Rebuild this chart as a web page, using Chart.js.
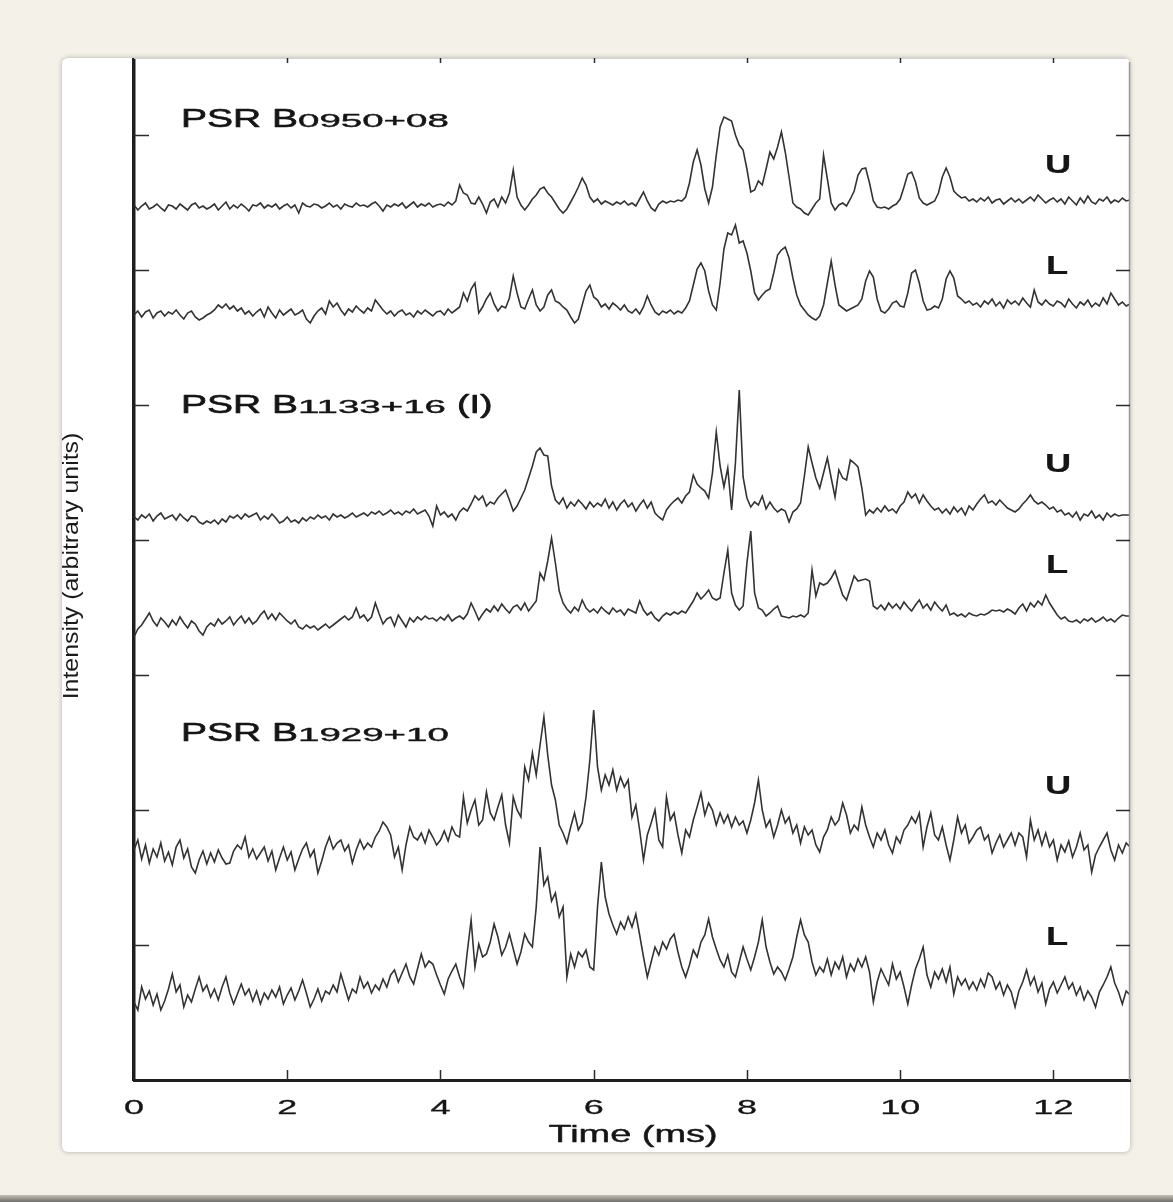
<!DOCTYPE html>
<html>
<head>
<meta charset="utf-8">
<title>Pulsar pulse profiles</title>
<script src="https://cdn.jsdelivr.net/npm/chart.js@4.4.0/dist/chart.umd.min.js"></script>
<style>
  html, body { margin: 0; padding: 0; }
  body { width: 1173px; height: 1202px; background: #f4f1e8; position: relative; overflow: hidden; }
  #card { position: absolute; left: 62px; top: 58px; width: 1068px; height: 1094px; background: #fff;
          border-radius: 6px; box-shadow: 0 0 5px rgba(0, 0, 0, 0.28); }
  #plot { position: absolute; left: 62px; top: 58px; }
  #floor { position: absolute; left: 0; top: 1195px; width: 1173px; height: 7px;
           background: linear-gradient(#c4c1b8, #6f6d69); }
</style>
</head>
<body>
<div id="card"></div>
<canvas id="plot" width="1069" height="1094"></canvas>
<div id="floor"></div>
<script>
// one sample every 0.05 ms, 0 .. 13 ms (261 samples per trace)
const sampleStep = 0.05;

// B0950+08, upper band
const u0950 = [
  2,-3,1,4,-2,0,3,-1,-4,2,1,-2,3,0,-3,2,4,-1,1,-2,
  0,3,-3,1,5,-2,2,-1,3,0,-4,2,1,4,-1,2,0,3,-2,1,
  3,-1,2,-6,4,1,0,3,2,-1,1,4,0,2,-2,3,1,0,4,1,
  2,0,3,5,1,-4,2,0,3,1,4,-1,2,5,0,3,1,4,0,2,
  3,1,5,2,6,22,14,12,4,3,10,3,-6,5,8,0,10,4,14,37,
  10,2,-3,2,8,12,18,20,14,10,4,-2,-6,-2,5,12,20,29,22,10,
  5,8,3,6,4,2,5,3,6,2,4,1,8,15,6,-1,-4,3,6,4,
  6,5,7,6,10,24,45,57,42,18,4,20,52,80,90,88,86,72,62,57,
  38,15,17,26,22,38,55,48,60,75,55,30,4,0,-2,-6,-8,-2,4,8,
  52,28,4,-3,2,4,1,8,16,32,38,39,24,6,0,-1,0,-2,1,3,
  8,20,33,35,25,9,4,2,4,6,14,30,39,30,16,12,9,10,6,8,
  5,9,6,10,4,7,8,3,6,9,5,8,4,7,10,6,12,8,4,7,
  9,5,8,3,10,6,2,9,4,11,5,3,8,6,10,4,7,5,9,6,
  7
];
// B0950+08, lower band
const l0950 = [
  -2,2,-4,1,3,-5,0,2,-3,1,-1,3,-2,-6,0,2,-4,-7,-5,-2,
  0,3,8,5,9,4,7,2,5,-1,2,-3,1,4,-4,6,0,-5,3,-2,
  1,4,-2,0,3,-6,-10,-3,2,5,-1,12,6,10,3,-2,4,1,7,3,
  0,5,2,13,8,3,-1,2,-3,1,3,-2,0,-4,2,-1,3,0,-3,1,
  2,-2,4,0,3,6,20,12,24,30,0,6,14,20,9,2,7,5,15,37,
  20,6,4,14,23,8,2,6,18,23,12,10,6,3,-4,-10,-6,8,22,28,
  16,13,6,9,4,10,7,3,8,2,0,4,-1,6,17,8,1,-2,2,0,
  3,-1,2,0,5,12,28,44,50,42,22,8,3,30,64,80,78,88,70,72,
  60,42,20,13,18,22,24,40,58,63,66,55,35,18,8,3,-2,-5,-7,-3,
  8,30,52,28,8,5,2,4,6,8,14,32,42,36,14,2,0,4,10,12,
  7,6,20,40,43,30,12,3,4,7,5,14,34,42,35,17,14,10,12,8,
  10,6,12,9,14,7,11,5,13,9,12,8,15,10,6,23,11,8,13,9,
  7,12,10,6,14,9,5,11,8,13,6,10,7,15,9,20,14,8,11,7,
  9
];
// B1133+16, upper band
const u1133 = [
  1,-2,3,0,4,-3,2,5,-1,1,3,-2,4,0,-3,2,1,-4,-6,-3,
  -5,-2,-6,-1,-4,2,0,3,-1,4,1,3,5,-2,2,-1,4,0,-5,-3,
  1,-4,-2,-5,0,-3,1,-1,3,0,2,-2,4,1,3,0,2,5,1,3,
  5,2,6,4,7,3,5,8,4,6,3,7,5,9,4,6,8,2,-8,12,
  3,6,1,4,-2,6,10,7,14,22,18,22,12,16,14,20,24,28,18,7,
  12,20,28,40,52,66,70,63,62,32,18,14,20,10,16,12,18,14,9,16,
  11,15,12,19,10,16,8,14,18,11,15,7,13,18,10,16,5,1,-2,8,
  13,17,20,15,22,26,43,34,30,27,20,45,86,52,31,50,8,55,128,41,
  20,11,16,13,22,9,16,10,6,9,7,-4,6,9,15,42,71,55,40,30,
  45,60,40,21,48,40,38,58,55,51,30,3,8,5,10,6,12,7,9,5,
  12,16,26,20,24,15,23,17,12,8,10,5,9,4,11,6,10,3,12,8,
  14,19,23,15,17,13,18,14,10,8,6,9,14,18,23,17,14,16,13,9,
  11,6,8,3,5,1,6,-2,4,2,7,0,3,-2,5,1,4,2,3,3,
  3
];
// B1133+16, lower band
const l1133 = [
  -14,-6,-2,4,10,2,-3,5,1,-4,3,-2,6,0,-5,2,-1,-8,-12,-4,
  0,-3,4,-1,2,6,-2,3,7,0,5,-1,2,8,12,4,9,3,10,6,
  2,-1,3,-4,-6,-2,-5,-3,-7,-4,-1,-5,-2,1,4,7,3,6,15,5,
  8,2,6,20,9,-1,4,6,-3,8,2,-4,5,1,6,3,7,4,5,2,
  6,3,8,2,5,7,4,9,20,12,3,9,14,11,17,12,19,14,10,16,
  18,13,20,12,17,22,50,43,62,85,60,32,20,14,10,16,12,23,15,11,
  14,10,16,12,9,15,11,13,8,14,12,10,22,13,8,11,5,2,7,10,
  8,11,9,12,10,16,22,30,24,28,33,25,23,25,50,73,30,18,13,17,
  60,92,30,15,13,7,10,14,17,7,6,5,7,6,8,6,10,53,27,40,
  38,40,45,52,40,28,23,35,47,42,43,44,42,17,14,18,13,20,15,19,
  14,21,16,12,18,23,15,19,13,21,16,12,18,8,10,7,9,6,10,8,
  7,9,8,10,13,12,13,11,14,12,9,15,19,12,20,16,22,18,28,20,
  14,8,4,6,2,1,3,0,4,2,5,1,3,6,2,4,1,5,8,7,
  7
];
// B1929+10, upper band
const u1929 = [
  5,15,-4,10,-8,6,-2,12,-6,3,-10,8,15,-3,6,-12,-18,-5,4,-9,
  2,-7,5,-3,-9,-8,4,10,6,18,-2,6,-4,2,8,-6,4,-15,-3,8,
  -5,3,-15,-4,6,12,-2,5,-18,-6,8,18,6,12,15,4,10,-8,5,15,
  6,12,8,18,24,33,28,20,-2,8,-15,10,28,18,15,22,12,25,18,10,
  15,24,14,28,20,18,58,32,45,55,30,35,63,42,35,48,60,30,12,58,
  45,38,88,75,102,80,110,138,100,70,55,30,22,12,28,42,25,32,58,95,
  145,88,65,80,70,85,65,78,68,75,38,50,25,-5,20,32,45,15,8,58,
  35,42,20,2,25,18,35,48,62,40,52,45,30,42,32,40,28,38,30,34,
  22,35,52,75,45,28,35,18,30,45,32,38,22,30,12,28,20,25,10,3,
  18,25,38,30,35,52,40,22,30,25,48,30,18,8,22,15,25,10,2,18,
  12,25,30,38,32,42,8,28,42,20,15,28,10,-5,15,38,22,30,12,18,
  25,28,15,20,2,12,20,8,15,22,10,22,18,-2,35,15,25,10,22,8,
  15,-5,10,3,14,-2,8,22,5,10,-17,0,8,15,22,5,-5,10,2,12,
  8
];
// B1929+10, lower band
const l1929 = [
  -5,-13,10,-2,6,-8,3,-13,-4,8,23,5,12,-10,2,-5,8,20,6,12,
  0,8,-3,10,20,4,-7,3,13,2,8,-4,6,-7,4,-2,7,0,10,-7,
  2,9,-3,6,17,4,-10,-2,8,-4,6,3,12,5,23,10,-3,8,4,20,
  9,15,4,12,7,18,10,22,27,15,24,33,20,13,28,43,30,36,33,22,
  12,3,18,26,33,20,10,45,77,30,53,40,43,55,73,60,42,50,63,48,
  33,45,63,55,50,90,150,112,120,96,104,80,90,20,43,30,45,40,47,30,
  27,90,135,100,83,72,63,75,68,80,70,83,62,40,20,35,50,42,55,48,
  58,63,45,30,20,32,47,40,55,62,78,60,48,37,30,42,25,20,35,50,
  38,27,40,55,77,50,35,23,30,25,17,28,40,60,77,62,55,35,22,30,
  25,38,22,35,28,40,20,33,26,38,30,40,25,-5,15,28,20,12,33,18,
  25,10,-7,12,28,38,50,22,10,25,18,28,15,30,3,20,12,18,8,15,
  7,18,10,24,20,8,15,2,12,5,-10,6,15,27,12,20,5,14,-7,8,
  15,4,12,20,8,14,2,10,-3,6,0,-10,5,12,20,30,14,5,-7,6,
  2
];

const traceNames = ["B0950+08 U", "B0950+08 L", "B1133+16 U", "B1133+16 L", "B1929+10 U", "B1929+10 L"];
const traceOffsets = [873, 767, 562, 457, 225, 83];
const bandLabels = ["U", "L", "U", "L", "U", "L"];
const pulsarLabels = [["PSR B", "0950+08", ""], ["PSR B", "1133+16", "(I)"], ["PSR B", "1929+10", ""]];
const timeTicks = [0, 2, 4, 6, 8, 10, 12];
const intensityTicks = [135, 270, 405, 540, 675, 810, 945];

const traces = [u0950, l0950, u1133, l1133, u1929, l1929];
const times = u0950.map((v, i) => +(i * sampleStep).toFixed(2));

const FONT = "'Liberation Sans', Arial, sans-serif";

// the original figure is stretched sideways, so text is drawn wide
function wideText(ctx, text, x, y, font, stretch, align, weight) {
    ctx.save();
    ctx.font = font;
    ctx.fillStyle = "#151515";
    ctx.strokeStyle = "#151515";
    ctx.lineWidth = weight || 0.5;
    ctx.lineJoin = "round";
    ctx.textAlign = align || "left";
    ctx.textBaseline = "alphabetic";
    ctx.translate(x, y);
    ctx.scale(stretch, 1);
    ctx.fillText(text, 0, 0);
    ctx.strokeText(text, 0, 0);
    ctx.restore();
}

const frame = {
    id: "frame",
    afterDraw(chart) {
        const ctx = chart.ctx;
        const area = chart.chartArea;
        const xs = chart.scales.x;
        const ys = chart.scales.y;
        ctx.save();

        // right and top edge of the box
        ctx.strokeStyle = "#9c9c9c";
        ctx.lineWidth = 1.5;
        ctx.beginPath();
        ctx.moveTo(area.right - 0.5, area.top + 4);
        ctx.lineTo(area.right - 0.5, area.bottom);
        ctx.stroke();
        ctx.strokeStyle = "#d4d4d4";
        ctx.lineWidth = 1;
        ctx.beginPath();
        ctx.moveTo(area.left, area.top + 0.5);
        ctx.lineTo(area.right - 4, area.top + 0.5);
        ctx.stroke();

        // tick marks pointing into the box
        ctx.strokeStyle = "#2a2a2a";
        ctx.lineWidth = 1.5;
        ctx.beginPath();
        xs.ticks.forEach(t => {
            if (t.value <= 0) return;
            const px = Math.round(xs.getPixelForValue(t.value)) + 0.5;
            ctx.moveTo(px, area.bottom);
            ctx.lineTo(px, area.bottom - 10);
            ctx.moveTo(px, area.top);
            ctx.lineTo(px, area.top + 5);
        });
        ys.ticks.forEach(t => {
            const py = Math.round(ys.getPixelForValue(t.value)) + 0.5;
            ctx.moveTo(area.left, py);
            ctx.lineTo(area.left + 15, py);
            ctx.moveTo(area.right - 14, py);
            ctx.lineTo(area.right, py);
        });
        ctx.stroke();
        ctx.restore();

        // tick labels and axis titles
        xs.ticks.forEach(t => {
            wideText(ctx, String(t.value), xs.getPixelForValue(t.value), area.bottom + 34,
                "20px " + FONT, 1.8, "center", 0.3);
        });
        wideText(ctx, "Time (ms)", (area.left + area.right) / 2 + 1, area.bottom + 62,
            "24px " + FONT, 1.58, "center", 0.45);
        ctx.save();
        ctx.font = "22px " + FONT;
        ctx.fillStyle = "#1a1a1a";
        ctx.textAlign = "center";
        ctx.translate(16, 508);
        ctx.rotate(-Math.PI / 2);
        ctx.scale(1.13, 1);
        ctx.fillText("Intensity (arbitrary units)", 0, 0);
        ctx.restore();

        // pulsar names
        const nameBase = [69, 355, 683];
        pulsarLabels.forEach((parts, k) => {
            const x0 = area.left + 47;
            wideText(ctx, parts[0], x0, nameBase[k], "25px " + FONT, 1.56, "left", 0.65);
            wideText(ctx, parts[1], x0 + 117, nameBase[k], "18.5px " + FONT, 2.08, "left", 0.4);
            if (parts[2]) wideText(ctx, parts[2], x0 + 276, nameBase[k], "25px " + FONT, 1.5, "left", 0.65);
        });

        // band letters
        const bandBase = [115, 216, 414, 515, 736, 887];
        bandLabels.forEach((b, k) => {
            wideText(ctx, b, area.left + 911 + (b === "L" ? 1 : 0), bandBase[k], "bold 25px " + FONT, 1.45, "left", 0.2);
        });
    }
};

new Chart(document.getElementById("plot"), {
    type: "line",
    data: {
        datasets: traces.map((amps, k) => ({
            label: traceNames[k],
            data: amps.map((a, i) => ({ x: times[i], y: traceOffsets[k] + a })),
            borderColor: "#333333",
            borderWidth: 1.6,
            pointRadius: 0,
            tension: 0,
            fill: false,
        })),
    },
    options: {
        responsive: false,
        animation: false,
        events: [],
        layout: { padding: { left: 0, right: 1, top: 0, bottom: 0 } },
        plugins: {
            legend: { display: false },
            tooltip: { enabled: false },
            title: { display: false },
        },
        scales: {
            x: {
                type: "linear",
                min: 0,
                max: 13,
                afterBuildTicks: s => { s.ticks = timeTicks.map(v => ({ value: v })); },
                afterFit: s => { s.height = 72; },
                ticks: { display: false },
                grid: { display: true, drawOnChartArea: false, drawTicks: false, color: "rgba(0,0,0,0)" },
                border: { display: true, color: "#1e1e1e", width: 3 },
            },
            y: {
                type: "linear",
                min: 0,
                max: 1022,
                afterBuildTicks: s => { s.ticks = intensityTicks.map(v => ({ value: v })); },
                afterFit: s => { s.width = 72; },
                ticks: { display: false },
                grid: { display: true, drawOnChartArea: false, drawTicks: false, color: "rgba(0,0,0,0)" },
                border: { display: true, color: "#1e1e1e", width: 3.5 },
            },
        },
    },
    plugins: [frame],
});
</script>
</body>
</html>
